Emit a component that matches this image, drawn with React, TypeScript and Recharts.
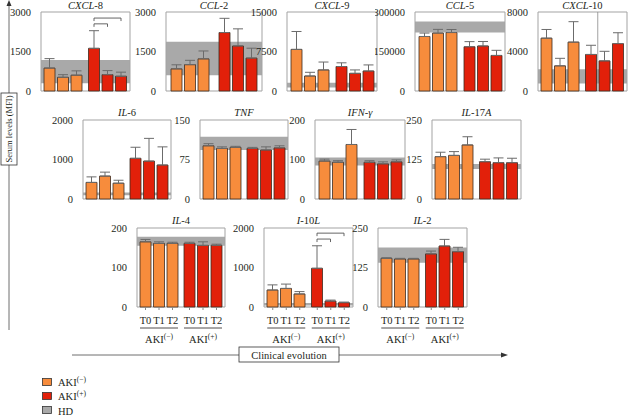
import React from "react";
import { BarChart, Bar, XAxis, YAxis, ReferenceArea, ErrorBar, Cell } from "recharts";

const FONT = '"Liberation Serif", "DejaVu Serif", serif';
const INK = "#231f20";
const ORANGE = "#f78c3c";
const RED = "#e2200a";
const HD_GREY = "#a9a9a9";
const FRAME = "#a3a3a3";
const OUTLINE = "#3d2b1f";
const ERR = "#6b6b6b";

const PLOT_H = 79;
const BAR = 11;
const GAP = 2.5;

const groups = ["AKI(−)", "AKI(+)"];
const times = ["T0", "T1", "T2"];

// means / errors: T0,T1,T2 of AKI(−) then T0,T1,T2 of AKI(+); hd = healthy donor band
const cxcl8Mean = [870, 520, 600, 1620, 620, 560];
const cxcl8Err = [360, 100, 165, 670, 155, 155];
const cxcl8Hd = [290, 1180];

const ccl2Mean = [840, 1000, 1220, 2220, 1710, 1250];
const ccl2Err = [155, 165, 300, 540, 650, 375];
const ccl2Hd = [600, 1870];

const cxcl9Mean = [7900, 2850, 4000, 4650, 3350, 3800];
const cxcl9Err = [3400, 700, 1500, 700, 650, 1150];
const cxcl9Hd = [650, 1550];

const ccl5Mean = [207000, 220000, 222000, 168000, 171000, 135000];
const ccl5Err = [13000, 14000, 11500, 19500, 17000, 19500];
const ccl5Hd = [222000, 264000];

const cxcl10Mean = [5350, 2550, 4950, 3700, 3050, 4800];
const cxcl10Err = [880, 760, 2070, 930, 970, 1100];
const cxcl10Hd = [760, 2200];

const il6Mean = [420, 580, 400, 1030, 960, 860];
const il6Err = [140, 100, 75, 280, 575, 460];
const il6Hd = [95, 165];

const tnfMean = [101, 96, 98, 96, 93, 97];
const tnfErr = [4, 3, 2, 2, 6, 4];
const tnfHd = [93, 118];

const ifngMean = [96, 93, 138, 93, 89, 94];
const ifngErr = [5, 4, 38, 4, 5, 5];
const ifngHd = [85, 105];

const il17Mean = [134, 138, 171, 118, 115, 115];
const il17Err = [14, 12, 26, 8, 15, 14];
const il17Hd = [95, 111];

const il4Mean = [165, 161, 161, 161, 156, 156];
const il4Err = [6, 4, 3, 3, 9, 3];
const il4Hd = [155, 178];

const il10Mean = [430, 470, 330, 980, 150, 110];
const il10Err = [130, 110, 60, 570, 25, 15];
const il10Hd = [40, 100];

const il2Mean = [154, 152, 152, 168, 193, 175];
const il2Err = [2, 2, 2, 9, 21, 14];
const il2Hd = [140, 188];

// significance brackets inside AKI(+) (time index from -> to, height in data units)
const cxcl8Brackets = [
  { from: 0, to: 1, at: 2550 },
  { from: 0, to: 2, at: 2770 },
];
const il10Brackets = [
  { from: 0, to: 1, at: 1720 },
  { from: 0, to: 2, at: 1870 },
];

type Bracket = { from: number; to: number; at: number };

type Panel = {
  title: string;
  mean: number[];
  err: number[];
  hd: number[];
  max: number;
  x: number;
  y: number;
  w: number;
  brackets?: Bracket[];
  divider?: boolean; // thin vertical rule between AKI(+) T0 and T1 (CXCL-10)
  timeAxis?: boolean;
};

const panels: Panel[] = [
  { title: "CXCL-8", mean: cxcl8Mean, err: cxcl8Err, hd: cxcl8Hd, max: 3000, x: 41, y: 12, w: 89, brackets: cxcl8Brackets },
  { title: "CCL-2", mean: ccl2Mean, err: ccl2Err, hd: ccl2Hd, max: 3000, x: 166, y: 12, w: 96 },
  { title: "CXCL-9", mean: cxcl9Mean, err: cxcl9Err, hd: cxcl9Hd, max: 15000, x: 287, y: 12, w: 90 },
  { title: "CCL-5", mean: ccl5Mean, err: ccl5Err, hd: ccl5Hd, max: 300000, x: 415, y: 12, w: 90 },
  { title: "CXCL-10", mean: cxcl10Mean, err: cxcl10Err, hd: cxcl10Hd, max: 8000, x: 538, y: 12, w: 89, divider: true },
  { title: "IL-6", mean: il6Mean, err: il6Err, hd: il6Hd, max: 2000, x: 83, y: 120, w: 88 },
  { title: "TNF", mean: tnfMean, err: tnfErr, hd: tnfHd, max: 150, x: 200, y: 120, w: 88 },
  { title: "IFN-γ", mean: ifngMean, err: ifngErr, hd: ifngHd, max: 200, x: 315, y: 120, w: 90 },
  { title: "IL-17A", mean: il17Mean, err: il17Err, hd: il17Hd, max: 250, x: 432, y: 120, w: 89 },
  { title: "IL-4", mean: il4Mean, err: il4Err, hd: il4Hd, max: 200, x: 137, y: 228, w: 88, timeAxis: true },
  { title: "I-10L", mean: il10Mean, err: il10Err, hd: il10Hd, max: 2000, x: 264, y: 228, w: 89, timeAxis: true, brackets: il10Brackets },
  { title: "IL-2", mean: il2Mean, err: il2Err, hd: il2Hd, max: 250, x: 378, y: 228, w: 89, timeAxis: true },
];

// letters italic, digits / hyphen upright
function Title({ text }: { text: string }) {
  const parts = text.split(/([A-Za-zγ]+)/).filter((s) => s !== "");
  return (
    <>
      {parts.map((s, i) => (
        <span key={i} style={{ fontStyle: /[A-Za-zγ]/.test(s) ? "italic" : "normal" }}>
          {s}
        </span>
      ))}
    </>
  );
}

function TimeTick(props: any) {
  const { x, y, payload } = props;
  const step = BAR + GAP;
  const neg = payload.value === groups[0];
  return (
    <g>
      {times.map((t, i) => (
        <g key={t}>
          <line x1={x + (i - 1) * step} x2={x + (i - 1) * step} y1={y} y2={y + 3} stroke="#888" />
          <text x={x + (i - 1) * step} y={y + 17} textAnchor="middle" fontSize={10.5} fontFamily={FONT} fill={INK}>
            {t}
          </text>
        </g>
      ))}
      <line x1={x - 19} x2={x + 19} y1={y + 21} y2={y + 21} stroke={INK} strokeWidth={0.8} />
      <text x={x} y={y + 36} textAnchor="middle" fontSize={10.5} fontFamily={FONT} fill={INK}>
        AKI
        <tspan dy={-4} fontSize={7.5}>
          {neg ? "(−)" : "(+)"}
        </tspan>
      </text>
    </g>
  );
}

// drawn from the AKI(+) T0 bar so that it follows the library's bar geometry
function annotLabel(p: Panel) {
  return (props: any) => {
    const vb = props.viewBox ?? props;
    if (props.index !== 1) return null;
    const { x, y, width, height } = vb;
    const step = width + GAP;
    const base = y + height;
    const k = height / p.mean[3];
    const cx = x + width / 2;
    return (
      <g>
        {(p.brackets ?? []).map((b, i) => {
          const yy = base - b.at * k;
          const x1 = cx + b.from * step;
          const x2 = cx + b.to * step;
          return (
            <path key={i} d={`M${x1},${yy + 3}V${yy}H${x2}V${yy + 3}`} fill="none" stroke="#555" strokeWidth={0.9} />
          );
        })}
        {p.divider && (
          <line
            x1={x + width + GAP / 2}
            x2={x + width + GAP / 2}
            y1={base - p.max * k}
            y2={base}
            stroke="#8a8a8a"
            strokeWidth={0.8}
          />
        )}
      </g>
    );
  };
}

function SmallChart({ p }: { p: Panel }) {
  const data = groups.map((g, gi) => {
    const row: any = { group: g };
    times.forEach((t, ti) => {
      row[t] = p.mean[gi * 3 + ti];
      row["e" + ti] = [0, p.err[gi * 3 + ti]];
    });
    return row;
  });
  const ml = 40;
  const mt = 6;
  const mr = 3;
  const xh = p.timeAxis ? 42 : 0;
  const mb = p.timeAxis ? 0 : 6;
  const w = ml + p.w + mr;
  const h = mt + PLOT_H + mb + xh;
  const hasAnnot = !!p.brackets || !!p.divider;

  return (
    <>
      <div
        style={{
          position: "absolute",
          left: p.x,
          top: Math.max(0, p.y - 13),
          width: p.w,
          height: 11,
          lineHeight: "11px",
          textAlign: "center",
          fontSize: 10.5,
          color: INK,
          whiteSpace: "nowrap",
        }}
      >
        <Title text={p.title} />
      </div>
      <div style={{ position: "absolute", left: p.x - ml, top: p.y - mt }}>
        <BarChart
          width={w}
          height={h}
          data={data}
          margin={{ top: mt, right: mr, bottom: mb, left: 0 }}
          barSize={BAR}
          barGap={GAP}
        >
          <XAxis
            dataKey="group"
            hide={!p.timeAxis}
            height={xh}
            axisLine={false}
            tickLine={false}
            tickSize={0}
            tickMargin={0}
            interval={0}
            tick={<TimeTick />}
          />
          <YAxis
            width={ml}
            domain={[0, p.max]}
            ticks={[0, p.max / 2, p.max]}
            axisLine={false}
            tickLine={false}
            tickMargin={4}
            tick={{ fontSize: 10.5, fill: INK, fontFamily: FONT }}
          />
          <ReferenceArea y1={p.hd[0]} y2={p.hd[1]} fill={HD_GREY} fillOpacity={1} stroke="none" />
          <ReferenceArea y1={0} y2={p.max} fill="none" fillOpacity={0} stroke={FRAME} strokeWidth={1} />
          {times.map((t, ti) => (
            <Bar
              key={t}
              dataKey={t}
              isAnimationActive={false}
              stroke={OUTLINE}
              strokeWidth={0.8}
              label={ti === 0 && hasAnnot ? annotLabel(p) : false}
            >
              {data.map((_, gi) => (
                <Cell key={gi} fill={gi === 0 ? ORANGE : RED} />
              ))}
              <ErrorBar dataKey={"e" + ti} width={5} stroke={ERR} strokeWidth={1} direction="y" />
            </Bar>
          ))}
        </BarChart>
      </div>
    </>
  );
}

export default function App() {
  return (
    <div
      style={{
        position: "absolute",
        left: 0,
        top: 0,
        width: 628,
        height: 417,
        overflow: "hidden",
        background: "#fff",
        fontFamily: FONT,
      }}
    >
      <svg width={628} height={417} style={{ position: "absolute", left: 0, top: 0 }}>
        {/* vertical axis arrow */}
        <line x1={9} y1={330} x2={9} y2={5} stroke="#6f6f6f" strokeWidth={1} />
        <polygon points="9,0 6.5,6 11.5,6" fill="#333" />
        <rect x={1} y={93} width={16} height={72} fill="#fff" stroke="#333" strokeWidth={0.8} />
        <text
          transform="translate(12.3,129) rotate(-90)"
          textAnchor="middle"
          fontSize={8.5}
          fontFamily={FONT}
          fill={INK}
        >
          Serum levels (MFI)
        </text>
        {/* horizontal axis arrow */}
        <line x1={72} y1={355} x2={502} y2={355} stroke="#6f6f6f" strokeWidth={1} />
        <polygon points="508,355 501,352.5 501,357.5" fill="#333" />
        <rect x={239} y={347} width={100} height={15} fill="#fff" stroke="#333" strokeWidth={0.8} />
        <text x={289} y={358.5} textAnchor="middle" fontSize={10.5} fontFamily={FONT} fill={INK}>
          Clinical evolution
        </text>
        {/* legend */}
        <rect x={42.5} y={378.5} width={9} height={7} fill={ORANGE} stroke="#333" strokeWidth={0.8} />
        <text x={58} y={386} fontSize={10.5} fontFamily={FONT} fill={INK}>
          AKI<tspan dy={-4} fontSize={7.5}>(−)</tspan>
        </text>
        <rect x={42.5} y={392.5} width={9} height={7} fill={RED} stroke="#333" strokeWidth={0.8} />
        <text x={58} y={400} fontSize={10.5} fontFamily={FONT} fill={INK}>
          AKI<tspan dy={-4} fontSize={7.5}>(+)</tspan>
        </text>
        <rect x={42.5} y={406.5} width={9} height={7} fill={HD_GREY} stroke="#333" strokeWidth={0.8} />
        <text x={58} y={414.5} fontSize={10.5} fontFamily={FONT} fill={INK}>
          HD
        </text>
      </svg>
      {panels.map((p) => (
        <SmallChart key={p.title} p={p} />
      ))}
    </div>
  );
}
